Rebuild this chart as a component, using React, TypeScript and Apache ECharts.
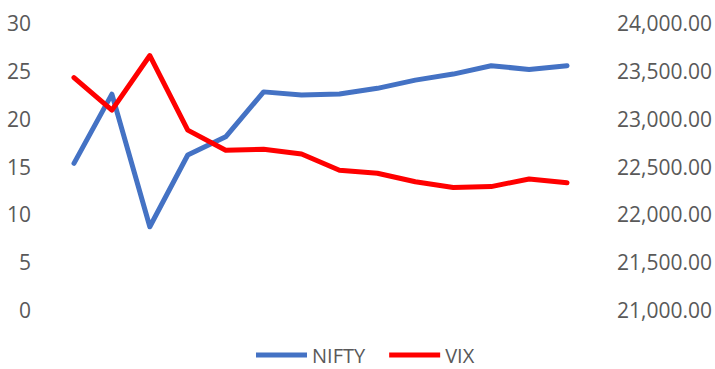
import React, { useEffect, useRef } from "react";
import * as echarts from "echarts";

const categories = ["1", "2", "3", "4", "5", "6", "7", "8", "9", "10", "11", "12", "13", "14"];
const niftyValues = [22533, 23257, 21870, 22620, 22810, 23280, 23247, 23257, 23317, 23403, 23466, 23553, 23515, 23553];
const vixValues = [24.3, 20.9, 26.6, 18.8, 16.7, 16.8, 16.3, 14.6, 14.3, 13.4, 12.8, 12.9, 13.7, 13.3];

const fmt = (v: number) => {
  const s = v.toFixed(2);
  const [i, d] = s.split(".");
  return i.replace(/\B(?=(\d{3})+(?!\d))/g, ",") + "." + d;
};

export default function App() {
  const ref = useRef<HTMLDivElement>(null);
  useEffect(() => {
    if (!ref.current) return;
    const chart = echarts.init(ref.current, undefined, { renderer: "svg" });
    const font = "'Open Sans', 'Noto Sans', sans-serif";
    chart.setOption({
      animation: false,
      backgroundColor: "#ffffff",
      grid: { left: 55, right: 129, top: 23, bottom: 59 },
      legend: {
        left: 256,
        top: 345,
        padding: 0,
        itemWidth: 51,
        itemHeight: 5,
        itemGap: 24,
        icon: "rect",
        textStyle: { color: "#595959", fontSize: 20, fontFamily: font, lineHeight: 20 },
        data: ["NIFTY", "VIX"],
      },
      xAxis: {
        type: "category",
        data: categories,
        boundaryGap: true,
        axisLine: { show: false },
        axisTick: { show: false },
        axisLabel: { show: false },
        splitLine: { show: false },
      },
      yAxis: [
        {
          type: "value",
          min: 0,
          max: 30,
          interval: 5,
          position: "left",
          axisLine: { show: false },
          axisTick: { show: false },
          splitLine: { show: false },
          axisLabel: { color: "#595959", fontSize: 21, fontFamily: font, margin: 24 },
        },
        {
          type: "value",
          min: 21000,
          max: 24000,
          interval: 500,
          position: "right",
          axisLine: { show: false },
          axisTick: { show: false },
          splitLine: { show: false },
          axisLabel: { color: "#595959", fontSize: 21, fontFamily: font, margin: 31, formatter: (v: number) => fmt(v) },
        },
      ],
      series: [
        {
          name: "NIFTY",
          type: "line",
          yAxisIndex: 1,
          data: niftyValues,
          showSymbol: false,
          symbol: "none",
          color: "#4472C4",
          lineStyle: { width: 5, color: "#4472C4", cap: "round", join: "round" },
        },
        {
          name: "VIX",
          type: "line",
          yAxisIndex: 0,
          data: vixValues,
          showSymbol: false,
          symbol: "none",
          color: "#FF0000",
          lineStyle: { width: 5, color: "#FF0000", cap: "round", join: "round" },
        },
      ],
    });
    return () => chart.dispose();
  }, []);
  return (
    <div
      ref={ref}
      style={{ position: "fixed", left: 0, top: 0, width: 715, height: 369, background: "#fff" }}
    />
  );
}
